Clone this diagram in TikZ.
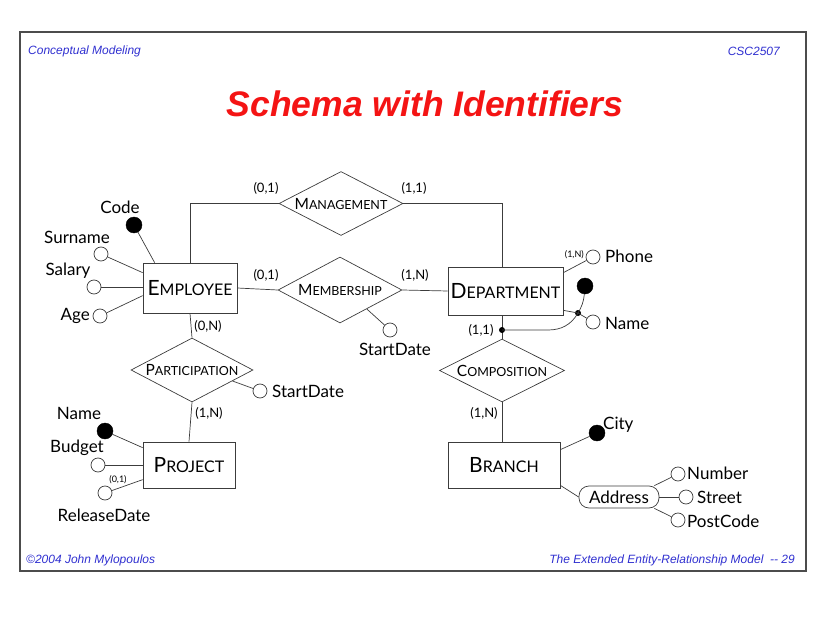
\documentclass[tikz,border=0pt]{standalone}
\usepackage{fontspec}
\setmainfont{Lato}
\newfontfamily\arialfont{Liberation Sans}
\usetikzlibrary{shapes.geometric,calc}

\definecolor{hdrblue}{RGB}{48,48,208}
\definecolor{titlered}{RGB}{244,20,20}
\definecolor{inkline}{RGB}{60,60,60}

% first letter large, the rest as small capitals
\newcommand\entname[2]{{\fontsize{21}{21}\selectfont #1}{\fontsize{16}{16}\selectfont #2}}
\newcommand\relname[2]{{\fontsize{15.5}{15.5}\selectfont #1}{\fontsize{12.5}{12.5}\selectfont #2}}

\begin{document}
\begin{tikzpicture}[x=1pt,y=-1pt,
  conn/.style={draw=inkline,line width=0.7pt},
  entity/.style={draw=inkline,line width=0.7pt,rectangle,inner sep=0pt},
  rel/.style={draw=inkline,line width=0.7pt,diamond,aspect=2,inner sep=0pt,
              minimum width=124,minimum height=64},
  attr/.style={draw=inkline,line width=0.7pt,circle,fill=white,inner sep=0pt,minimum size=14},
  keyattr/.style={draw=black,circle,fill=black,inner sep=0pt,minimum size=16},
  dotj/.style={circle,fill=black,inner sep=0pt,minimum size=6},
  lbl/.style={inner sep=0pt,font=\fontsize{17}{17}\selectfont},
  card/.style={inner sep=0pt,font=\fontsize{13}{13}\selectfont},
  cardsm/.style={inner sep=0pt,font=\fontsize{9}{9}\selectfont},
  hdr/.style={inner sep=0pt,text=hdrblue,font=\arialfont\itshape\fontsize{12}{12}\selectfont}
]
\useasboundingbox (0,0) rectangle (825,618);
\draw[line width=1.3pt,draw=black!70] (20,32) rectangle (806,571);

% header, title and footer
\node[hdr,anchor=west] (h1) at (28,51) {Conceptual Modeling};
\node[hdr,anchor=east] (h2) at (780,51) {CSC2507};
\node[inner sep=0pt,text=titlered,font=\arialfont\bfseries\itshape\fontsize{35.5}{35.5}\selectfont] (title) at (425,104) {Schema with Identifiers};
\node[hdr,anchor=west] (f1) at (26,560) {\textcopyright2004 John Mylopoulos};
\node[hdr,anchor=east] (f2) at (795,560) {The Extended Entity-Relationship Model\ \ -- 29};

% entities
\node[entity,minimum width=94,minimum height=50] (emp) at (190,288) {\entname{E}{MPLOYEE}};
\node[entity,minimum width=115,minimum height=48] (dep) at (505.5,291) {\entname{D}{EPARTMENT}};
\node[entity,minimum width=92,minimum height=46] (prj) at (189,465) {\entname{P}{ROJECT}};
\node[entity,minimum width=112,minimum height=46] (br) at (504,465) {\entname{B}{RANCH}};

% relationships
\node[rel] (mgt) at (341,203.5) {\relname{M}{ANAGEMENT}};
\node[rel,minimum height=66] (mem) at (340,290) {\relname{M}{EMBERSHIP}};
\node[rel,minimum width=122] (par) at (192,370) {\relname{P}{ARTICIPATION}};
\node[rel,minimum width=125,minimum height=63] (cmp) at (502,370.5) {\relname{C}{OMPOSITION}};

% relationship links
\draw[conn] (emp.north) |- (mgt.west);
\draw[conn] (mgt.east) -| (dep.north -| cmp.north);
\draw[conn] (emp.east) -- (mem.west);
\draw[conn] (mem.east) -- (dep.west);
\draw[conn] (emp.south) -- (par.north);
\draw[conn] (par.south) -- (prj.north);
\draw[conn] (dep.south -| cmp.north) -- (cmp.north);
\draw[conn] (cmp.south) -- (cmp.south |- br.north);

\node[card] (c1) at (266,188) {(0,1)};
\node[card] (c2) at (414,188) {(1,1)};
\node[card] (c3) at (266,275) {(0,1)};
\node[card] (c4) at (415,275) {(1,N)};
\node[card] (c5) at (208,326) {(0,N)};
\node[card] (c6) at (209,413) {(1,N)};
\node[card] (c7) at (484,413) {(1,N)};
\node[card] (c8) at (481,330) {(1,1)};

% employee attributes
\node[keyattr] (ecode) at (134,225) {};
\node[attr] (esur) at (101,254) {};
\node[attr] (esal) at (94,287) {};
\node[attr] (eage) at (100,316) {};
\draw[conn] (ecode) -- ($(emp.north west)+(12,0)$);
\draw[conn] (esur) -- ($(emp.north west)+(0,10)$);
\draw[conn] (esal) -- (esal -| emp.west);
\draw[conn] (eage) -- ($(emp.north west)+(0,33)$);
\node[lbl] (tcode) at (120,207) {Code};
\node[lbl] (tsur) at (77,237) {Surname};
\node[lbl] (tsal) at (68,271) {Salary};
\node[lbl,anchor=east] (tage) at (90,316) {Age};

% membership attribute
\node[attr] (msd) at (390,330) {};
\draw[conn] ($(mem.east)!0.57!(mem.south)$) -- (msd);
\node[lbl] (tmsd) at (395,349) {StartDate};

% participation attribute
\node[attr] (psd) at (260,391) {};
\draw[conn] ($(par.east)!0.34!(par.south)$) -- (psd);
\node[lbl,anchor=west] (tpsd) at (272,391) {StartDate};

% project attributes
\node[keyattr] (pname) at (105,431) {};
\node[attr] (pbud) at (98,465) {};
\node[attr] (prel) at (105,493) {};
\draw[conn] (pname) -- ($(prj.north west)+(0,6)$);
\draw[conn] (pbud) -- (pbud -| prj.west);
\draw[conn] (prel) -- ($(prj.north west)+(0,38)$);
\node[lbl] (tpname) at (79,413) {Name};
\node[lbl] (tpbud) at (77,448) {Budget};
\node[lbl] (tprel) at (104,515) {ReleaseDate};
\node[cardsm] (c9) at (118,480) {(0,1)};

% department attributes
\node[attr] (dph) at (593,257) {};
\draw[conn] ($(dep.north east)+(0,6)$) -- (dph);
\node[cardsm,anchor=east] (c10) at (584,255) {(1,N)};
\node[lbl,anchor=west] (tdph) at (605,256) {Phone};
\node[keyattr] (dkey) at (585,286) {};
\node[attr] (dname) at (593,322) {};
\node[lbl,anchor=west] (tdname) at (605,323) {Name};
\node[dotj] (jn) at (578,313) {};
\node[dotj] (dd) at (502,330) {};
\draw[conn] ($(dep.south east)+(0,-5)$) -- (jn.center) -- (dname);
\draw[conn] (dd.center) -- (548,330) to[out=0,in=-120] (jn.center)
            to[out=60,in=-95] (dkey);

% branch attributes
\node[keyattr] (bcity) at (597,433) {};
\draw[conn] ($(br.north east)+(0,8)$) -- (bcity);
\node[lbl,anchor=west] (tcity) at (603,425) {City};
\node[draw=inkline,line width=0.7pt,rounded corners=10pt,minimum width=80,minimum height=22,inner sep=0pt,
      font=\fontsize{17}{17}\selectfont] (addr) at (619,497) {Address};
\draw[conn] ($(br.south east)+(0,-3)$) -- (addr.west);
\node[attr] (anum) at (678,474) {};
\node[attr] (astr) at (686,497) {};
\node[attr] (apc) at (678,520) {};
\draw[conn] ($(addr.north east)+(-5,0)$) -- (anum);
\draw[conn] (addr.east) -- (astr);
\draw[conn] ($(addr.south east)+(-5,0)$) -- (apc);
\node[lbl,anchor=west] (tnum) at (687,473) {Number};
\node[lbl,anchor=west] (tstr) at (697,497) {Street};
\node[lbl,anchor=west] (tpc) at (687,521) {PostCode};
\end{tikzpicture}
\end{document}
